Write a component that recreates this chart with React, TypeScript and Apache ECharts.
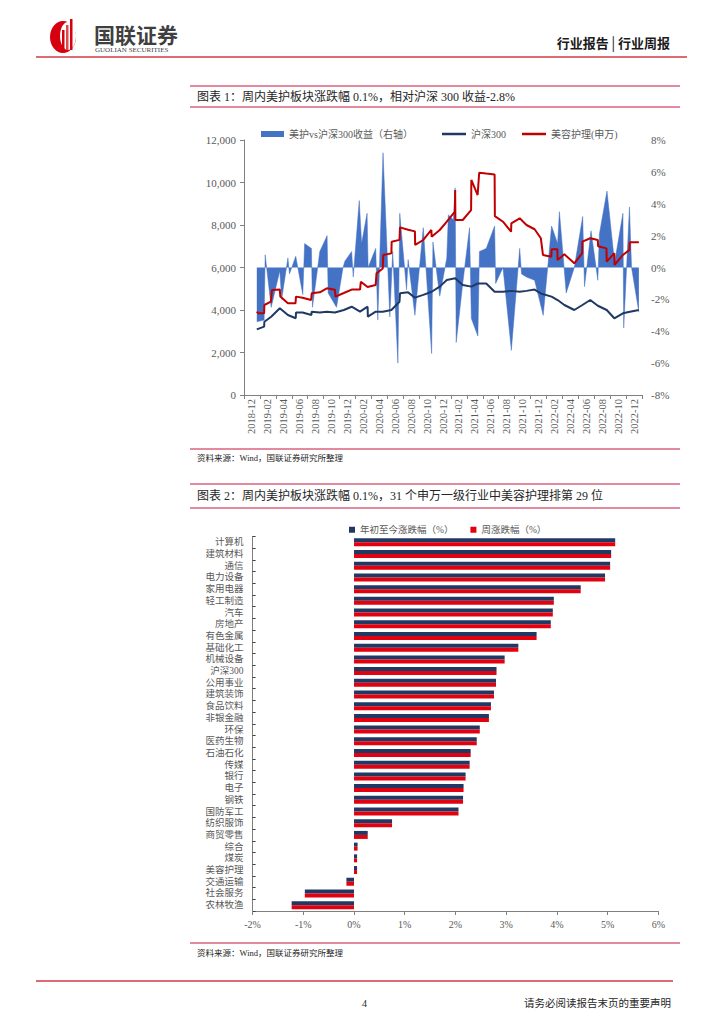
import React, { useEffect, useRef } from 'react';
import * as echarts from 'echarts';

// ---------- Chart 1 data ----------
const monthLabels = [
  '2018-12', '2019-02', '2019-04', '2019-06', '2019-08', '2019-10', '2019-12',
  '2020-02', '2020-04', '2020-06', '2020-08', '2020-10', '2020-12',
  '2021-02', '2021-04', '2021-06', '2021-08', '2021-10', '2021-12',
  '2022-02', '2022-04', '2022-06', '2022-08', '2022-10', '2022-12',
];

// 美护vs沪深300收益（右轴）, %
const relativeReturn: [string, number][] = [
  ['2019-01-19', -3.4], ['2019-02-16', -3.3], ['2019-02-20', 0.8], ['2019-03-15', -2.5],
  ['2019-04-17', -0.2], ['2019-04-24', -2.0], ['2019-05-18', 0.6], ['2019-05-24', -0.4],
  ['2019-06-17', 0.7], ['2019-07-14', -1.7], ['2019-07-21', 1.5], ['2019-08-16', 1.2],
  ['2019-08-20', -2.5], ['2019-09-17', 1.0], ['2019-10-15', 2.0], ['2019-10-19', -1.6],
  ['2019-11-20', -2.5], ['2019-12-15', 0.0], ['2019-12-22', 0.4], ['2020-01-17', 1.0],
  ['2020-01-23', -0.6], ['2020-02-15', 4.2], ['2020-02-24', 1.5], ['2020-03-16', 3.4],
  ['2020-03-20', 0.0], ['2020-04-18', 1.2], ['2020-04-26', -3.3], ['2020-05-16', 7.2],
  ['2020-06-11', -3.1], ['2020-06-22', 1.0], ['2020-07-12', -6.0], ['2020-07-19', 3.4],
  ['2020-08-14', -1.4], ['2020-08-20', 0.5], ['2020-09-15', -3.0], ['2020-10-17', 2.5],
  ['2020-11-18', -5.4], ['2020-11-23', 1.6], ['2020-12-19', -1.8], ['2021-01-15', 0.6],
  ['2021-01-21', 3.3], ['2021-02-09', 3.0], ['2021-02-16', 5.0], ['2021-02-20', -4.7],
  ['2021-03-17', -1.0], ['2021-04-12', 2.5], ['2021-04-19', -3.2], ['2021-05-14', -4.3],
  ['2021-05-20', 1.0], ['2021-06-15', 1.2], ['2021-07-17', 2.6], ['2021-07-21', -1.0],
  ['2021-08-18', 0.0], ['2021-09-13', -4.2], ['2021-09-19', -5.2], ['2021-10-21', 1.2],
  ['2021-10-28', -0.4], ['2021-11-16', -0.6], ['2021-12-17', -0.8], ['2022-01-19', -3.0],
  ['2022-02-20', 2.6], ['2022-03-15', 1.5], ['2022-03-22', 3.5], ['2022-04-17', -1.6],
  ['2022-05-18', 0.0], ['2022-06-19', 3.2], ['2022-06-26', -1.2], ['2022-07-21', 2.3],
  ['2022-08-16', -0.8], ['2022-08-22', 2.1], ['2022-09-20', 4.8], ['2022-10-19', 0.3],
  ['2022-11-20', 3.4], ['2022-11-23', -3.8], ['2022-12-15', 3.8], ['2022-12-23', 0.0],
  ['2023-01-20', -2.8],
];

// 沪深300
const hs300: [string, number][] = [
  ['2019-01-19', 3090], ['2019-02-16', 3215], ['2019-02-17', 3450], ['2019-03-15', 3685],
  ['2019-04-17', 4080], ['2019-05-18', 3765], ['2019-06-17', 3610], ['2019-06-18', 3880],
  ['2019-07-13', 3880], ['2019-08-16', 3765], ['2019-08-17', 3920], ['2019-09-17', 3880],
  ['2019-10-14', 3920], ['2019-11-14', 3880], ['2019-12-18', 4000], ['2020-01-17', 4155],
  ['2020-02-18', 3920], ['2020-03-18', 4155], ['2020-03-19', 3685], ['2020-04-18', 3920],
  ['2020-05-15', 3920], ['2020-06-17', 4000], ['2020-07-18', 4390], ['2020-07-20', 4785],
  ['2020-08-20', 4830], ['2020-09-15', 4580], ['2020-10-17', 4710], ['2020-11-18', 4860],
  ['2020-12-19', 5100], ['2021-01-15', 5410], ['2021-02-16', 5490], ['2021-03-17', 5180],
  ['2021-04-19', 5100], ['2021-05-14', 5250], ['2021-06-15', 5250], ['2021-07-17', 4860],
  ['2021-08-18', 4860], ['2021-09-19', 4900], ['2021-10-21', 4860], ['2021-11-16', 4900],
  ['2021-12-17', 4960], ['2022-01-10', 4780], ['2022-02-20', 4630], ['2022-03-15', 4470],
  ['2022-04-10', 4235], ['2022-05-18', 4000], ['2022-06-18', 4235], ['2022-07-18', 4470],
  ['2022-08-16', 4200], ['2022-09-19', 4000], ['2022-10-18', 3610], ['2022-11-20', 3845],
  ['2022-12-17', 3920], ['2023-01-20', 4000],
];

// 美容护理(申万)
const beautyCare: [string, number][] = [
  ['2019-01-19', 3920], ['2019-01-24', 3850], ['2019-02-16', 3850], ['2019-02-17', 4235],
  ['2019-03-14', 4390], ['2019-03-18', 4940], ['2019-04-17', 4970], ['2019-04-19', 4630],
  ['2019-05-18', 4315], ['2019-06-16', 4315], ['2019-06-18', 4630], ['2019-07-13', 4580],
  ['2019-08-15', 4470], ['2019-08-17', 4785], ['2019-09-17', 4830], ['2019-10-14', 5020],
  ['2019-11-14', 4950], ['2019-11-16', 4630], ['2019-12-18', 4800], ['2020-01-17', 4960],
  ['2020-02-18', 4960], ['2020-02-21', 5330], ['2020-03-18', 5080], ['2020-04-18', 5180],
  ['2020-04-21', 5725], ['2020-05-15', 5950], ['2020-05-17', 6590], ['2020-06-17', 6665],
  ['2020-06-18', 7215], ['2020-07-18', 7300], ['2020-07-20', 7890], ['2020-08-20', 7780],
  ['2020-09-15', 7700], ['2020-09-16', 7060], ['2020-10-17', 7295], ['2020-11-17', 7765],
  ['2020-11-18', 7450], ['2020-12-19', 7765], ['2021-01-15', 8155], ['2021-02-15', 8625],
  ['2021-02-16', 9650], ['2021-02-17', 8235], ['2021-03-17', 8235], ['2021-04-18', 8700],
  ['2021-04-19', 10120], ['2021-05-13', 9410], ['2021-05-19', 10460], ['2021-06-15', 10420],
  ['2021-07-17', 10380], ['2021-07-18', 8420], ['2021-08-18', 8155], ['2021-09-18', 7685],
  ['2021-09-19', 8080], ['2021-10-21', 8315], ['2021-11-16', 8000], ['2021-12-17', 7800],
  ['2022-01-10', 7375], ['2022-01-18', 6590], ['2022-02-19', 6510], ['2022-02-20', 6855],
  ['2022-03-14', 6855], ['2022-03-15', 6350], ['2022-04-10', 6620], ['2022-05-18', 6195],
  ['2022-06-17', 6670], ['2022-06-18', 7215], ['2022-07-18', 7375], ['2022-08-16', 7295],
  ['2022-08-17', 7000], ['2022-09-18', 6900], ['2022-09-19', 6275], ['2022-10-18', 6670],
  ['2022-10-19', 6120], ['2022-11-20', 6590], ['2022-12-15', 6830], ['2022-12-16', 7190],
  ['2023-01-20', 7190],
];

// ---------- Chart 2 data ----------
const industries = [
  '计算机', '建筑材料', '通信', '电力设备', '家用电器', '轻工制造', '汽车', '房地产',
  '有色金属', '基础化工', '机械设备', '沪深300', '公用事业', '建筑装饰', '食品饮料', '非银金融',
  '环保', '医药生物', '石油石化', '传媒', '银行', '电子', '钢铁', '国防军工',
  '纺织服饰', '商贸零售', '综合', '煤炭', '美容护理', '交通运输', '社会服务', '农林牧渔',
];
const ytdChange = [
  5.15, 5.07, 5.05, 4.95, 4.47, 3.94, 3.92, 3.88,
  3.60, 3.24, 2.97, 2.81, 2.80, 2.76, 2.70, 2.66,
  2.48, 2.42, 2.30, 2.28, 2.20, 2.16, 2.15, 2.06,
  0.75, 0.27, 0.07, 0.06, 0.06, -0.15, -0.97, -1.23,
];
const weekChange = [
  5.15, 5.07, 5.05, 4.95, 4.47, 3.94, 3.92, 3.88,
  3.60, 3.24, 2.97, 2.81, 2.80, 2.76, 2.70, 2.66,
  2.48, 2.42, 2.30, 2.28, 2.20, 2.16, 2.15, 2.06,
  0.75, 0.27, 0.07, 0.06, 0.06, -0.15, -0.97, -1.23,
];

const FONT = "'Liberation Serif', 'Noto Sans CJK SC', serif";
const GRAY = '#595959';
const AXIS = '#808080';
const CRIMSON = '#C8143C';

const hline = (x1: number, x2: number, y: number, color = CRIMSON, w = 1) => ({
  type: 'line',
  shape: { x1, y1: y, x2, y2: y },
  style: { stroke: color, lineWidth: w },
  silent: true,
});

const txt = (x: number, y: number, text: string, size: number, extra: any = {}) => ({
  type: 'text',
  x,
  y,
  style: {
    text,
    font: `${extra.weight || 'normal'} ${size}px ${FONT}`,
    fill: extra.fill || '#262626',
    textAlign: extra.align || 'left',
    textVerticalAlign: 'middle',
  },
  silent: true,
});

export default function App() {
  const ref = useRef<HTMLDivElement>(null);

  useEffect(() => {
    if (!ref.current) return;
    const chart = echarts.init(ref.current, undefined, { renderer: 'svg' });

    const legendText = { fontSize: 10, color: GRAY, fontFamily: FONT };

    const option: any = {
      animation: false,
      backgroundColor: '#ffffff',
      textStyle: { fontFamily: FONT },
      grid: [
        { left: 244, top: 140, width: 398, height: 255 },
        { left: 252.6, top: 536.5, width: 405.7, height: 374.5 },
      ],
      legend: [
        {
          left: 256,
          top: 124,
          itemWidth: 23,
          itemHeight: 6,
          icon: 'rect',
          textStyle: legendText,
          data: ['美护vs沪深300收益（右轴）'],
        },
        {
          left: 437,
          top: 124,
          itemGap: 16,
          itemWidth: 24,
          itemHeight: 2.5,
          icon: 'rect',
          textStyle: legendText,
          data: ['沪深300', '美容护理(申万)'],
        },
        {
          left: 344,
          top: 520,
          itemGap: 17,
          itemWidth: 6,
          itemHeight: 6,
          icon: 'rect',
          textStyle: { fontSize: 9.5, color: GRAY, fontFamily: FONT },
          data: ['年初至今涨跌幅（%）', '周涨跌幅（%）'],
        },
      ],
      xAxis: [
        {
          type: 'category',
          gridIndex: 0,
          data: monthLabels,
          boundaryGap: true,
          axisLine: { lineStyle: { color: AXIS } },
          axisTick: { show: true, length: 4, lineStyle: { color: AXIS } },
          axisLabel: { rotate: 90, interval: 0, fontSize: 10.5, color: GRAY, margin: 4, fontFamily: FONT },
        },
        {
          type: 'time',
          gridIndex: 0,
          min: +new Date(2018, 11, 1),
          max: +new Date(2023, 1, 1),
          show: false,
        },
        {
          type: 'value',
          gridIndex: 1,
          min: -2,
          max: 6,
          interval: 1,
          axisLine: { show: true, lineStyle: { color: AXIS } },
          axisTick: { show: true, length: 4, lineStyle: { color: AXIS } },
          splitLine: { show: false },
          axisLabel: { formatter: '{value}%', fontSize: 10, color: GRAY, margin: 8, fontFamily: FONT },
        },
      ],
      yAxis: [
        {
          type: 'value',
          gridIndex: 0,
          min: 0,
          max: 12000,
          interval: 2000,
          axisLine: { show: true, lineStyle: { color: AXIS } },
          axisTick: { show: true, length: 4, lineStyle: { color: AXIS } },
          splitLine: { show: false },
          axisLabel: {
            fontSize: 11,
            color: GRAY,
            margin: 8,
            fontFamily: FONT,
            formatter: (v: number) => v.toLocaleString('en-US'),
          },
        },
        {
          type: 'value',
          gridIndex: 0,
          position: 'right',
          min: -8,
          max: 8,
          interval: 2,
          axisLine: { show: false },
          axisTick: { show: false },
          splitLine: { show: false },
          axisLabel: { formatter: '{value}%', fontSize: 11, color: GRAY, margin: 9, fontFamily: FONT },
        },
        {
          type: 'category',
          gridIndex: 1,
          inverse: true,
          data: industries,
          axisLine: { show: false },
          axisTick: { show: false },
          axisLabel: { interval: 0, fontSize: 9.5, color: GRAY, margin: 9, fontFamily: FONT },
        },
        {
          type: 'category',
          gridIndex: 1,
          inverse: true,
          position: 'left',
          data: industries,
          axisLine: { show: true, onZero: true, lineStyle: { color: AXIS } },
          axisTick: { show: true, inside: true, interval: 0, length: 3, lineStyle: { color: '#404040' } },
          axisLabel: { show: false },
        },
      ],
      series: [
        {
          name: '美护vs沪深300收益（右轴）',
          type: 'line',
          xAxisIndex: 1,
          yAxisIndex: 1,
          data: relativeReturn,
          symbol: 'none',
          color: '#4472C4',
          lineStyle: { width: 0.5, color: '#4472C4' },
          areaStyle: { color: '#4472C4', opacity: 1 },
          z: 1,
        },
        {
          name: '沪深300',
          type: 'line',
          xAxisIndex: 1,
          yAxisIndex: 0,
          data: hs300,
          symbol: 'none',
          color: '#1F3864',
          lineStyle: { width: 2, color: '#1F3864' },
          z: 3,
        },
        {
          name: '美容护理(申万)',
          type: 'line',
          xAxisIndex: 1,
          yAxisIndex: 0,
          data: beautyCare,
          symbol: 'none',
          color: '#C00000',
          lineStyle: { width: 2, color: '#C00000' },
          z: 4,
        },
        {
          name: '年初至今涨跌幅（%）',
          type: 'bar',
          xAxisIndex: 2,
          yAxisIndex: 2,
          data: ytdChange,
          barWidth: 4,
          barGap: '0%',
          color: '#1F3864',
          itemStyle: { color: '#1F3864' },
        },
        {
          name: '周涨跌幅（%）',
          type: 'bar',
          xAxisIndex: 2,
          yAxisIndex: 2,
          data: weekChange,
          barWidth: 4,
          barGap: '0%',
          color: '#E3000F',
          itemStyle: { color: '#E3000F' },
        },
      ],
      graphic: [
        // Logo
        { type: 'ellipse', shape: { cx: 63, cy: 37, rx: 13, ry: 16 }, style: { fill: '#D7000F' }, silent: true },
        { type: 'ellipse', shape: { cx: 68, cy: 36, rx: 8, ry: 14 }, style: { fill: '#ffffff' }, silent: true },
        { type: 'rect', shape: { x: 62, y: 30, width: 2.5, height: 20 }, style: { fill: '#D7000F' }, silent: true },
        { type: 'rect', shape: { x: 66, y: 25, width: 2.5, height: 25 }, style: { fill: '#E0474F' }, silent: true },
        { type: 'rect', shape: { x: 70, y: 19, width: 2.5, height: 31 }, style: { fill: '#D7000F' }, silent: true },
        txt(94, 36, '国联证券', 21, { weight: 'bold', fill: '#3F3F3F' }),
        txt(95, 50, 'GUOLIAN SECURITIES', 7, { fill: '#3F3F3F' }),
        txt(670, 43, '行业报告│行业周报', 13, { weight: 'bold', fill: '#1A1A1A', align: 'right' }),
        hline(36, 687, 57, '#D23A44', 1.5),

        // Figure 1 title
        hline(190, 680, 86),
        txt(197, 97, '图表 1：周内美护板块涨跌幅 0.1%，相对沪深 300 收益-2.8%', 12),
        hline(190, 680, 107),
        hline(190, 680, 449),
        txt(197, 458, '资料来源：Wind，国联证券研究所整理', 8.5),

        // Figure 2 title
        hline(190, 680, 484),
        txt(197, 496, '图表 2：周内美护板块涨跌幅 0.1%，31 个申万一级行业中美容护理排第 29 位', 12),
        hline(190, 680, 508),
        hline(190, 680, 943),
        txt(197, 953, '资料来源：Wind，国联证券研究所整理', 8.5),

        // Footer
        hline(36, 673, 981, '#D23A44', 1.5),
        txt(362, 1003, '4', 10),
        txt(671, 1003, '请务必阅读报告末页的重要声明', 10.5, { align: 'right' }),
      ],
    };

    chart.setOption(option);
    return () => chart.dispose();
  }, []);

  return (
    <div
      ref={ref}
      style={{ position: 'absolute', left: 0, top: 0, width: 724, height: 1024, background: '#fff' }}
    />
  );
}
